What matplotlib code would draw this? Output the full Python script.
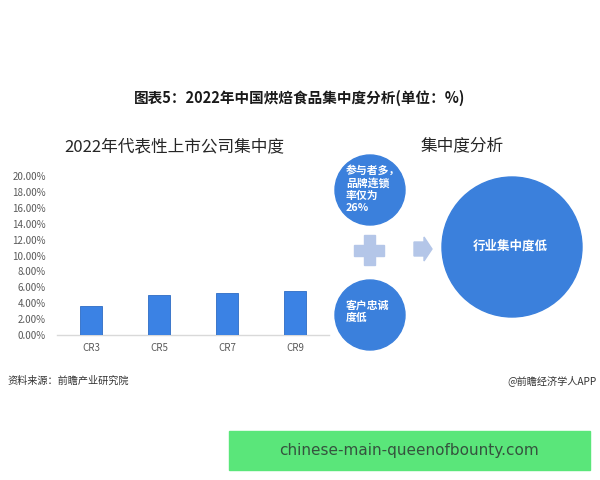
import matplotlib
matplotlib.use("Agg")
import matplotlib.pyplot as plt
from matplotlib.patches import Circle, Rectangle, Polygon
from matplotlib.ticker import FuncFormatter

plt.rcParams['font.family'] = ['Noto Sans CJK SC', 'DejaVu Sans']

categories = ["CR3", "CR5", "CR7", "CR9"]
values = [3.7, 5.0, 5.3, 5.5]
yticks = [0, 2, 4, 6, 8, 10, 12, 14, 16, 18, 20]

title = "图表5：2022年中国烘焙食品集中度分析(单位：%)"
left_title = "2022年代表性上市公司集中度"
right_title = "集中度分析"
circle1_text = "参与者多，\n品牌连锁\n率仅为\n26%"
circle2_text = "客户忠诚\n度低"
big_text = "行业集中度低"
source = "资料来源：前瞻产业研究院"
credit = "@前瞻经济学人APP"
banner = "chinese-main-queenofbounty.com"

W, H = 600, 480
fig = plt.figure(figsize=(6, 4.8), dpi=100)
fig.patch.set_facecolor("white")

# overlay axes in pixel coordinates
ov = fig.add_axes([0, 0, 1, 1])
ov.set_xlim(0, W)
ov.set_ylim(H, 0)
ov.axis("off")

# bar chart axes
x0, x1, y0, y1 = 57, 329, 335, 176
ax = fig.add_axes([x0 / W, (H - y0) / H, (x1 - x0) / W, (y0 - y1) / H])
ax.bar(range(len(categories)), values, width=0.31, color="#3b82e4",
       edgecolor="#2d6cc4", linewidth=0.6, zorder=3)
ax.set_xlim(-0.5, len(categories) - 0.5)
ax.set_ylim(0, 20)
ax.set_yticks(yticks)
ax.yaxis.set_major_formatter(FuncFormatter(lambda v, p: f"{v:.2f}%"))
ax.set_xticks(range(len(categories)))
ax.set_xticklabels(categories)
for s in ["top", "right", "left"]:
    ax.spines[s].set_visible(False)
ax.spines["bottom"].set_color("#d9d9d9")
ax.spines["bottom"].set_linewidth(1.0)
ax.tick_params(axis="both", length=0, labelsize=7, colors="#595959")
ax.tick_params(axis="y", pad=8)
ax.tick_params(axis="x", pad=6)
ax.patch.set_alpha(0)

# titles
ov.text(300, 98, title, ha="center", va="center", fontsize=10.5,
        fontweight="bold", color="#1a1a1a")
ov.text(174, 147, left_title, ha="center", va="center", fontsize=12, color="#262626")
ov.text(462, 146, right_title, ha="center", va="center", fontsize=12, color="#262626")

# circles
blue = "#3b80dc"
ov.add_patch(Circle((370, 190), 35, color=blue, zorder=2))
ov.add_patch(Circle((370, 315), 35, color=blue, zorder=2))
ov.add_patch(Circle((512, 247), 70, color=blue, zorder=2))
ov.text(346, 189, circle1_text, ha="left", va="center", fontsize=7.8,
        fontweight="bold", color="white", linespacing=1.22, zorder=3)
ov.text(346, 311, circle2_text, ha="left", va="center", fontsize=7.8,
        fontweight="bold", color="white", linespacing=1.25, zorder=3)
ov.text(510, 246, big_text, ha="center", va="center", fontsize=9,
        fontweight="bold", color="white", zorder=3)

# plus sign
light = "#b4c6e8"
ov.add_patch(Rectangle((354, 244.5), 30, 11, color=light, zorder=2))
ov.add_patch(Rectangle((363.5, 235), 11, 30, color=light, zorder=2))

# arrow
ov.add_patch(Polygon([(414, 242), (424, 242), (424, 237), (432, 249),
                      (424, 261), (424, 256), (414, 256)],
                     closed=True, color=light, zorder=2))

# footer
ov.text(7, 381, source, ha="left", va="center", fontsize=7.3, color="#333333")
ov.text(597, 381, credit, ha="right", va="center", fontsize=7.3, color="#333333")

# banner
ov.add_patch(Rectangle((229, 431), 361, 39, color="#5ae67a", zorder=2))
ov.text(409.5, 450.5, banner, ha="center", va="center", fontsize=11,
        color="#35533e", family=["DejaVu Sans"], zorder=3)

fig.savefig("out.png", dpi=100, facecolor="white")
